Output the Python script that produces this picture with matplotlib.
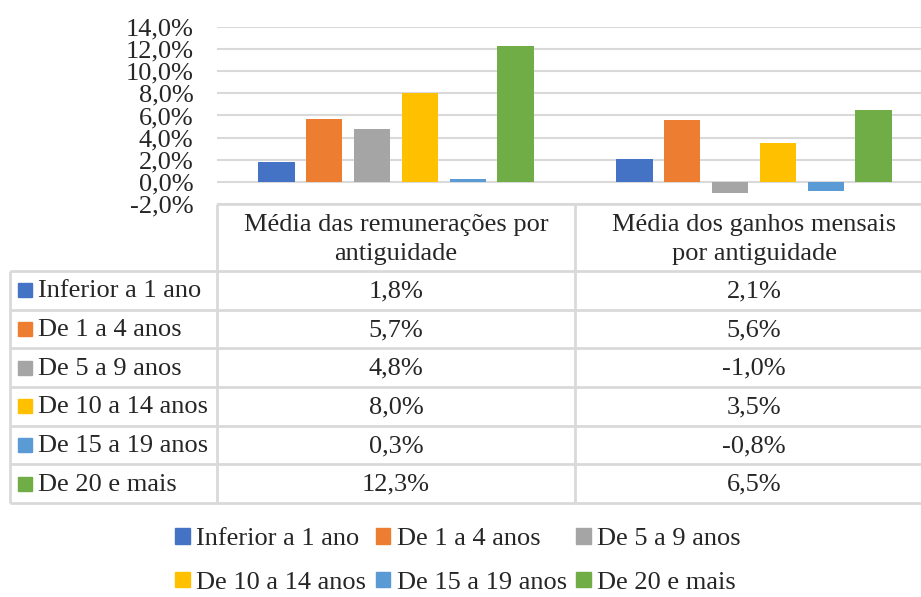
import matplotlib
matplotlib.use("Agg")
import matplotlib.pyplot as plt
from matplotlib.patches import Patch, Rectangle

plt.rcParams["font.family"] = ["Liberation Serif", "DejaVu Serif"]

categories = ["Média das remunerações por\nantiguidade",
              "Média dos ganhos mensais\npor antiguidade"]
series_names = ["Inferior a 1 ano", "De 1 a 4 anos", "De 5 a 9 anos",
                "De 10 a 14 anos", "De 15 a 19 anos", "De 20 e mais"]
inferior_1 = [1.8, 2.1]
de_1_a_4 = [5.7, 5.6]
de_5_a_9 = [4.8, -1.0]
de_10_a_14 = [8.0, 3.5]
de_15_a_19 = [0.3, -0.8]
de_20_mais = [12.3, 6.5]
series_values = [inferior_1, de_1_a_4, de_5_a_9, de_10_a_14, de_15_a_19, de_20_mais]
colors = ["#4472C4", "#ED7D31", "#A5A5A5", "#FFC000", "#5B9BD5", "#70AD47"]
y_ticks = [-2, 0, 2, 4, 6, 8, 10, 12, 14]

W, H = 921, 597
FS = 19
TXT = "#262626"
GRID = "#D9D9D9"

def fmt(v):
    return f"{v:.1f}%".replace(".", ",")

fig = plt.figure(figsize=(W / 100, H / 100), dpi=100)

# chart area (in pixels: x 217..933, y 27..204)
x0, x1, y_top, y_bot = 217, 933, 27, 204
ax = fig.add_axes([x0 / W, 1 - y_bot / H, (x1 - x0) / W, (y_bot - y_top) / H])
step, width = 0.134, 0.103
for j, (name, vals, c) in enumerate(zip(series_names, series_values, colors)):
    xs = [i + (j - 2.5) * step for i in range(len(categories))]
    ax.bar(xs, vals, width=width, color=c, label=name, zorder=3)
ax.set_xlim(-0.5, len(categories) - 0.5)
ax.set_ylim(-2, 14)
ax.set_yticks(y_ticks)
ax.set_yticklabels([fmt(t) for t in y_ticks], fontsize=FS, color=TXT)
ax.set_xticks([])
ax.tick_params(axis="y", length=0, pad=17)
ax.grid(axis="y", color=GRID, lw=1.5, zorder=0)
for s in ax.spines.values():
    s.set_visible(False)

# data table drawn in pixel coordinates
tx = fig.add_axes([0, 0, 1, 1], zorder=5)
tx.set_xlim(0, W)
tx.set_ylim(H, 0)
tx.axis("off")
tx.patch.set_alpha(0)

head_top, head_bot, tab_bot = 204, 271, 503
row_h = (tab_bot - head_bot) / len(series_names)
col_div = (x0 + x1) / 2
line_kw = dict(color=GRID, lw=2, solid_capstyle="butt")
tx.plot([x0, W], [head_top, head_top], **line_kw)
for k in range(len(series_names) + 1):
    y = head_bot + k * row_h
    tx.plot([10, W], [y, y], **line_kw)
tx.plot([10, 10], [head_bot, tab_bot], **line_kw)
tx.plot([x0, x0], [head_top, tab_bot], **line_kw)
tx.plot([col_div, col_div], [head_top, tab_bot], **line_kw)

col_centers = [x0 + (i + 0.5) * (x1 - x0) / len(categories) for i in range(len(categories))]
for cx, cat in zip(col_centers, categories):
    tx.text(cx, (head_top + head_bot) / 2 + 2, cat, ha="center", va="center",
            fontsize=FS, color=TXT, linespacing=1.38)

for k, (name, vals, c) in enumerate(zip(series_names, series_values, colors)):
    yc = head_bot + (k + 0.5) * row_h
    tx.add_patch(Rectangle((18, yc - 7), 14, 14, color=c))
    tx.text(38, yc + 1, name, ha="left", va="center", fontsize=FS, color=TXT)
    for cx, v in zip(col_centers, vals):
        tx.text(cx, yc + 1, fmt(v), ha="center", va="center", fontsize=FS, color=TXT)

# legend below the table, Excel style flow (row-wise)
handles = [Patch(color=c) for c in colors]
order = [0, 3, 1, 4, 2, 5]
fig.legend([handles[i] for i in order], [series_names[i] for i in order],
           ncol=3, loc="center", bbox_to_anchor=(458 / W, 1 - 561 / H),
           frameon=False, fontsize=FS, labelcolor=TXT,
           handlelength=0.55, handleheight=0.55, handletextpad=0.25,
           columnspacing=0.35, labelspacing=0.8, borderpad=0)

fig.savefig("out.png", dpi=100)
